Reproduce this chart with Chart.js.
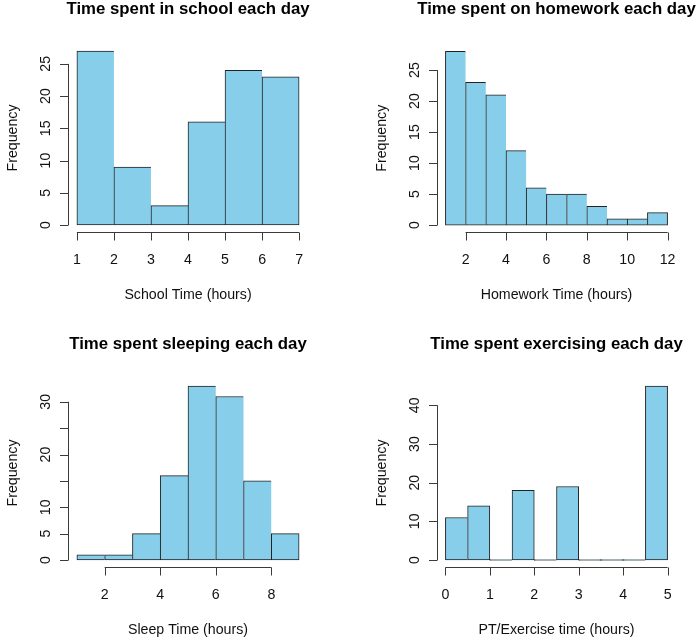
<!DOCTYPE html>
<html>
<head>
<meta charset="utf-8">
<script src="https://cdn.jsdelivr.net/npm/chart.js@4/dist/chart.umd.min.js"></script>
<style>
  html, body { margin: 0; padding: 0; background: #fff; }
  #wrap { position: relative; width: 699px; height: 638px; }
  .panel { position: absolute; }
</style>
</head>
<body>
<div id="wrap">
  <div class="panel" style="left:0;top:0;width:350px;height:320px"><canvas id="c1"></canvas></div>
  <div class="panel" style="left:350px;top:0;width:349px;height:320px"><canvas id="c2"></canvas></div>
  <div class="panel" style="left:0;top:320px;width:350px;height:318px"><canvas id="c3"></canvas></div>
  <div class="panel" style="left:350px;top:320px;width:349px;height:318px"><canvas id="c4"></canvas></div>
</div>
<script>
// histogram data: bin breaks + counts per bin
var schoolBreaks = [1, 2, 3, 4, 5, 6, 7];
var schoolCounts = [27, 9, 3, 16, 24, 23];
var schoolXTicks = [1, 2, 3, 4, 5, 6, 7];
var schoolYTicks = [0, 5, 10, 15, 20, 25];

var homeworkBreaks = [1, 2, 3, 4, 5, 6, 7, 8, 9, 10, 11, 12];
var homeworkCounts = [28, 23, 21, 12, 6, 5, 5, 3, 1, 1, 2];
var homeworkXTicks = [2, 4, 6, 8, 10, 12];
var homeworkYTicks = [0, 5, 10, 15, 20, 25];

var sleepBreaks = [1, 2, 3, 4, 5, 6, 7, 8, 9];
var sleepCounts = [1, 1, 5, 16, 33, 31, 15, 5];
var sleepXTicks = [2, 4, 6, 8];
var sleepYTicks = [0, 5, 10, 15, 20, 25, 30];
var sleepYLabels = ['0', '5', '10', '', '20', '', '30'];

var exerciseBreaks = [0, 0.5, 1, 1.5, 2, 2.5, 3, 3.5, 4, 4.5, 5];
var exerciseCounts = [11, 14, 0, 18, 0, 19, 0, 0, 0, 45];
var exerciseXTicks = [0, 1, 2, 3, 4, 5];
var exerciseYTicks = [0, 10, 20, 30, 40];

var FONT = '"Liberation Sans", Arial, Helvetica, sans-serif';

// R-style axes, titles drawn with the chart's own scales
var rAxes = {
  id: 'rAxes',
  afterDraw: function(chart) {
    var o = chart.options.plugins.rAxes;
    var ctx = chart.ctx, a = chart.chartArea;
    var xs = chart.scales.x, ys = chart.scales.y;
    ctx.save();
    ctx.strokeStyle = '#3a3a3a';
    ctx.lineWidth = 1;
    ctx.fillStyle = '#111';

    // x axis
    var x0 = xs.getPixelForValue(o.xTicks[0]);
    var x1 = xs.getPixelForValue(o.xTicks[o.xTicks.length - 1]);
    var yb = Math.round(a.bottom) + 0.5;
    ctx.beginPath();
    ctx.moveTo(x0, yb); ctx.lineTo(x1, yb);
    o.xTicks.forEach(function(t) {
      var px = Math.round(xs.getPixelForValue(t)) + 0.5;
      ctx.moveTo(px, yb); ctx.lineTo(px, yb + 8);
    });
    ctx.stroke();
    ctx.font = '14.2px ' + FONT;
    ctx.textAlign = 'center';
    ctx.textBaseline = 'alphabetic';
    o.xTicks.forEach(function(t) {
      ctx.fillText(String(t), xs.getPixelForValue(t), a.bottom + 31.5);
    });

    // y axis
    var xl = Math.round(a.left) + 0.5;
    var y0 = ys.getPixelForValue(o.yTicks[0]);
    var y1 = ys.getPixelForValue(o.yTicks[o.yTicks.length - 1]);
    ctx.beginPath();
    ctx.moveTo(xl, y0); ctx.lineTo(xl, y1);
    o.yTicks.forEach(function(t) {
      var py = Math.round(ys.getPixelForValue(t)) + 0.5;
      ctx.moveTo(xl, py); ctx.lineTo(xl - 8.5, py);
    });
    ctx.stroke();
    var labels = o.yLabels || o.yTicks.map(String);
    o.yTicks.forEach(function(t, i) {
      if (!labels[i]) return;
      ctx.save();
      ctx.translate(a.left - 18, ys.getPixelForValue(t));
      ctx.rotate(-Math.PI / 2);
      ctx.fillText(labels[i], 0, 0);
      ctx.restore();
    });

    // axis titles
    ctx.fillText(o.xTitle, (a.left + a.right) / 2, a.bottom + 67);
    ctx.save();
    ctx.translate(a.left - 51, (a.top + a.bottom) / 2);
    ctx.rotate(-Math.PI / 2);
    ctx.fillText('Frequency', 0, 0);
    ctx.restore();

    // main title
    ctx.fillStyle = '#000';
    ctx.font = 'bold 16.8px ' + FONT;
    ctx.fillText(o.title, (a.left + a.right) / 2, a.top - 30.5);
    ctx.restore();
  }
};

function makeHist(id, breaks, counts, xTicks, yTicks, yLabels, title, xTitle, pad) {
  var points = [];
  for (var i = 0; i < counts.length; i++) {
    points.push({ x: (breaks[i] + breaks[i + 1]) / 2, y: counts[i] });
  }
  var xmin = breaks[0], xmax = breaks[breaks.length - 1];
  var ymax = Math.max.apply(null, counts);
  var xr = xmax - xmin;

  new Chart(document.getElementById(id), {
    type: 'bar',
    data: {
      datasets: [{
        data: points,
        backgroundColor: '#87CEEB',
        borderColor: '#222',
        borderSkipped: false,
        minBarLength: 1,
        borderWidth: function(c) {
          var k = c.dataIndex;
          var closeRight = (k === counts.length - 1 || counts[k + 1] === 0);
          return { top: 1, left: 1, bottom: 1, right: closeRight ? 1 : 0 };
        },
        barPercentage: 1,
        categoryPercentage: 1
      }]
    },
    options: {
      responsive: true,
      maintainAspectRatio: false,
      animation: false,
      layout: { padding: pad },
      plugins: {
        legend: { display: false },
        tooltip: { enabled: false },
        rAxes: { xTicks: xTicks, yTicks: yTicks, yLabels: yLabels, title: title, xTitle: xTitle }
      },
      scales: {
        x: {
          type: 'linear',
          display: false,
          offset: false,
          min: xmin - 0.04 * xr,
          max: xmax + 0.04 * xr,
          afterBuildTicks: function(s) { s.ticks = xTicks.map(function(v) { return { value: v }; }); }
        },
        y: {
          type: 'linear',
          display: false,
          min: -0.04 * ymax,
          max: 1.04 * ymax
        }
      }
    },
    plugins: [rAxes]
  });
}

makeHist('c1', schoolBreaks, schoolCounts, schoolXTicks, schoolYTicks, null,
  'Time spent in school each day', 'School Time (hours)',
  { left: 68, top: 44, right: 42, bottom: 88 });
makeHist('c2', homeworkBreaks, homeworkCounts, homeworkXTicks, homeworkYTicks, null,
  'Time spent on homework each day', 'Homework Time (hours)',
  { left: 86.5, top: 44.5, right: 22.5, bottom: 88 });
makeHist('c3', sleepBreaks, sleepCounts, sleepXTicks, sleepYTicks, sleepYLabels,
  'Time spent sleeping each day', 'Sleep Time (hours)',
  { left: 68, top: 59, right: 42, bottom: 71 });
makeHist('c4', exerciseBreaks, exerciseCounts, exerciseXTicks, exerciseYTicks, null,
  'Time spent exercising each day', 'PT/Exercise time (hours)',
  { left: 86.5, top: 59, right: 22.5, bottom: 71 });
</script>
</body>
</html>
